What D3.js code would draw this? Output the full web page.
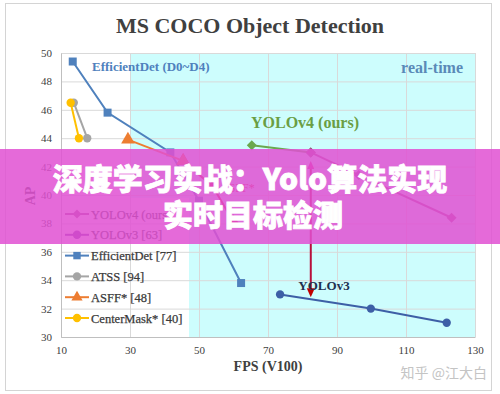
<!DOCTYPE html>
<html>
<head>
<meta charset="utf-8">
<script src="https://cdn.jsdelivr.net/npm/d3@7"></script>
<style>
body { margin: 0; background: #fff; }
svg { display: block; }
</style>
</head>
<body>
<svg width="500" height="394"></svg>
<script>
// values
var xTicks = [10, 30, 50, 70, 90, 110, 130];
var yTicks = [30, 32, 34, 36, 38, 40, 42, 44, 46, 48, 50];

var yolov4Fps = [65.3, 82.4, 96.3, 123.2];
var yolov4Ap  = [43.5, 43.0, 41.4, 38.4];
var effdetFps = [13.4, 23.5, 41.7, 50.0, 62.2];
var effdetAp  = [49.4, 45.8, 43.0, 39.6, 33.8];
var atssFps   = [13.7, 17.6];
var atssAp    = [46.5, 44.0];
var asffFps   = [29.4, 45.4, 54.0, 60.0];
var asffAp    = [43.9, 42.4, 40.6, 38.1];
var centerFps = [12.8, 15.2];
var centerAp  = [46.5, 44.0];
var yolov3Fps = [73.5, 99.8, 121.8];
var yolov3Ap  = [33.0, 32.0, 31.0];

var legendNames = ["YOLOv4 (ours)", "YOLOv3 [63]", "EfficientDet [77]", "ATSS [94]", "ASFF* [48]", "CenterMask* [40]"];
var realtimeFps = 30;          // cyan band starts here
var legendBox = [10, 47.1, 30, 39.8]; // fps0, fps1, ap0, ap1
var arrowFps = 82.4, arrowTop = 42.4, arrowBottom = 32.8;

var serif = "'Liberation Serif', 'Times New Roman', serif";
var svg = d3.select("svg");

var x = d3.scaleLinear().domain([10, 130]).range([61, 475]);
var y = d3.scaleLinear().domain([30, 50]).range([337, 53]);

function zip(a, b) { return a.map(function(v, i) { return [v, b[i]]; }); }

// outer frame
svg.append("rect")
  .attr("x", 5.5).attr("y", 3.5).attr("width", 486).attr("height", 387)
  .attr("fill", "#fff").attr("stroke", "#d4d4d4");

// real-time band
svg.append("rect")
  .attr("x", x(realtimeFps)).attr("y", y(50))
  .attr("width", x(130) - x(realtimeFps)).attr("height", y(30) - y(50))
  .attr("fill", "#cdfdfd");
// legend background
svg.append("rect")
  .attr("x", x(legendBox[0])).attr("y", y(legendBox[3]))
  .attr("width", x(legendBox[1]) - x(legendBox[0]))
  .attr("height", y(legendBox[2]) - y(legendBox[3]))
  .attr("fill", "#fff");

// grid
svg.append("g")
  .attr("transform", "translate(0," + y(30) + ")")
  .call(d3.axisBottom(x).tickValues(xTicks).tickSize(-(y(30) - y(50))).tickFormat(""))
  .call(function(g) { g.select(".domain").remove(); g.selectAll("line").attr("stroke", "#d9d9d9"); });
svg.append("g")
  .attr("transform", "translate(" + x(10) + ",0)")
  .call(d3.axisLeft(y).tickValues(yTicks).tickSize(-(x(130) - x(10))).tickFormat(""))
  .call(function(g) { g.select(".domain").remove(); g.selectAll("line").attr("stroke", "#d9d9d9"); });

// axes lines + labels
svg.append("g")
  .attr("transform", "translate(0," + y(30) + ")")
  .call(d3.axisBottom(x).tickValues(xTicks).tickSize(0).tickPadding(9))
  .call(function(g) {
    g.select(".domain").attr("stroke", "#bfbfbf");
    g.selectAll("text").attr("font-family", serif).attr("font-size", 11).attr("fill", "#404040");
  });
svg.append("g")
  .attr("transform", "translate(" + x(10) + ",0)")
  .call(d3.axisLeft(y).tickValues(yTicks).tickSize(0).tickPadding(9))
  .call(function(g) {
    g.select(".domain").attr("stroke", "#bfbfbf");
    g.selectAll("text").attr("font-family", serif).attr("font-size", 11).attr("fill", "#404040");
  });

var line = d3.line().x(function(d) { return x(d[0]); }).y(function(d) { return y(d[1]); });

function series(pts, color, shape, size, rot) {
  svg.append("path").datum(pts)
    .attr("d", line).attr("fill", "none").attr("stroke", color).attr("stroke-width", 2);
  svg.append("g").selectAll("path").data(pts).enter().append("path")
    .attr("d", d3.symbol().type(shape).size(size))
    .attr("transform", function(d) { return "translate(" + x(d[0]) + "," + y(d[1]) + ")" + (rot ? " rotate(45)" : ""); })
    .attr("fill", color);
}

series(zip(effdetFps, effdetAp), "#4f81bd", d3.symbolSquare, 64);
series(zip(atssFps, atssAp), "#a5a5a5", d3.symbolCircle, 55);
series(zip(centerFps, centerAp), "#ffc000", d3.symbolCircle, 55);
series(zip(asffFps, asffAp).slice(1), "#d8203a", d3.symbolTriangle, 80);
series(zip(asffFps, asffAp).slice(0, 2), "#ed7d31", d3.symbolTriangle, 80);
series(zip(yolov3Fps, yolov3Ap), "#3d5fa6", d3.symbolCircle, 55);
var v4 = zip(yolov4Fps, yolov4Ap);
series(v4.slice(1), "#a0558c", d3.symbolSquare, 50, true);
series(v4.slice(0, 2), "#6aa84f", d3.symbolSquare, 50, true);
// keep the 2nd diamond mauve
svg.append("path").attr("d", d3.symbol().type(d3.symbolSquare).size(50)())
  .attr("transform", "translate(" + x(v4[1][0]) + "," + y(v4[1][1]) + ") rotate(45)")
  .attr("fill", "#a0558c");

// arrow YOLOv3 -> YOLOv4
var ax = x(arrowFps), ay0 = y(arrowTop), ay1 = y(arrowBottom);
svg.append("line")
  .attr("x1", ax).attr("x2", ax).attr("y1", ay0 + 6).attr("y2", ay1 - 6)
  .attr("stroke", "#b8103c").attr("stroke-width", 2);
svg.append("path")
  .attr("d", "M" + ax + "," + ay0 + "l-3.5,8h7z").attr("fill", "#e0208a");
svg.append("path")
  .attr("d", "M" + ax + "," + ay1 + "l-4,-9h8z").attr("fill", "#c00000");

// annotations
svg.append("text").text("EfficientDet (D0~D4)")
  .attr("x", 92).attr("y", 71)
  .attr("font-family", serif).attr("font-size", 13).attr("font-weight", "bold").attr("fill", "#4f81bd");
svg.append("text").text("real-time")
  .attr("x", 463).attr("y", 73).attr("text-anchor", "end")
  .attr("font-family", serif).attr("font-size", 16).attr("font-weight", "bold").attr("fill", "#5a8ab8");
svg.append("text").text("YOLOv4 (ours)")
  .attr("x", 251).attr("y", 128)
  .attr("font-family", serif).attr("font-size", 16).attr("font-weight", "bold").attr("fill", "#6a9e44");
svg.append("text").text("ASFF*")
  .attr("x", 220).attr("y", 192)
  .attr("font-family", serif).attr("font-size", 12).attr("fill", "#d8203a");
svg.append("text").text("YOLOv3")
  .attr("x", 324).attr("y", 290).attr("text-anchor", "middle")
  .attr("font-family", serif).attr("font-size", 13).attr("font-weight", "bold").attr("fill", "#1f3050");

// legend
var legendColors = ["#a0558c", "#7030a0", "#4f81bd", "#a5a5a5", "#ed7d31", "#ffc000"];
var legendShapes = [d3.symbolSquare, d3.symbolCircle, d3.symbolSquare, d3.symbolCircle, d3.symbolTriangle, d3.symbolCircle];
var leg = svg.append("g").selectAll("g").data(legendNames).enter().append("g")
  .attr("transform", function(d, i) { return "translate(0," + (214 + i * 20.8) + ")"; });
leg.append("line").attr("x1", 65).attr("x2", 89)
  .attr("stroke", function(d, i) { return legendColors[i]; }).attr("stroke-width", 2);
leg.append("path")
  .attr("d", function(d, i) { return d3.symbol().type(legendShapes[i]).size(i == 0 ? 40 : 55)(); })
  .attr("transform", function(d, i) { return "translate(77,0)" + (i == 0 ? " rotate(45)" : ""); })
  .attr("fill", function(d, i) { return legendColors[i]; });
leg.append("text").text(function(d) { return d; })
  .attr("x", 91).attr("y", 4.5)
  .attr("font-family", serif).attr("font-size", 12.5).attr("fill", "#3a3a3a")
  .attr("stroke", "#3a3a3a").attr("stroke-width", 0.25);

// titles
svg.append("text").text("MS COCO Object Detection")
  .attr("x", 250).attr("y", 33).attr("text-anchor", "middle")
  .attr("font-family", serif).attr("font-size", 22).attr("font-weight", "bold").attr("fill", "#404040");
svg.append("text").text("FPS (V100)")
  .attr("x", 268).attr("y", 371).attr("text-anchor", "middle")
  .attr("font-family", serif).attr("font-size", 14).attr("font-weight", "bold").attr("fill", "#404040");
svg.append("text").text("AP")
  .attr("transform", "translate(35,196) rotate(-90)").attr("text-anchor", "middle")
  .attr("font-family", serif).attr("font-size", 14).attr("font-weight", "bold").attr("fill", "#404040");

// watermark
svg.append("text").text("知乎 @江大白")
  .attr("x", 487).attr("y", 378).attr("text-anchor", "end")
  .attr("font-family", "'Noto Sans CJK SC', sans-serif").attr("font-size", 14).attr("fill", "#c4c4c4");

// overlay banner
svg.append("rect")
  .attr("x", 0).attr("y", 149).attr("width", 500).attr("height", 95)
  .attr("fill", "rgb(224,80,210)").attr("opacity", 0.85);
var bannerLines = ["深度学习实战：Yolo算法实现", "实时目标检测"];
svg.append("g").selectAll("text").data(bannerLines).enter().append("text")
  .text(function(d) { return d; })
  .attr("x", function(d, i) { return i == 0 ? 250 : 253; })
  .attr("y", function(d, i) { return 190 + i * 36; })
  .attr("text-anchor", "middle")
  .attr("font-family", "'Noto Sans CJK SC', sans-serif").attr("font-size", 30).attr("font-weight", 900)
  .attr("fill", "#fff").attr("stroke", "#fff").attr("stroke-width", 0.8);
</script>
</body>
</html>
